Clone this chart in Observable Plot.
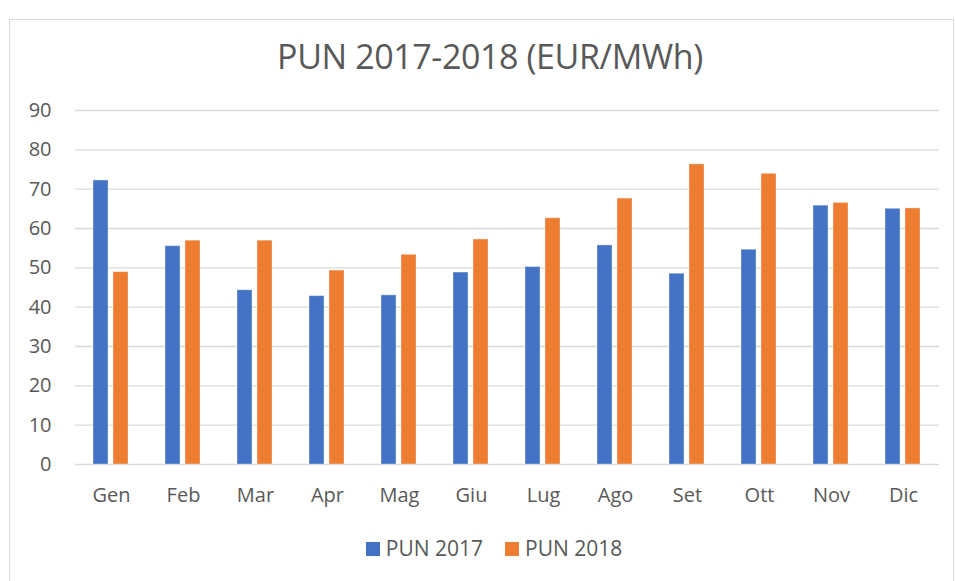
<!DOCTYPE html>
<html>
<head>
<meta charset="utf-8">
<script src="https://cdn.jsdelivr.net/npm/d3@7"></script>
<script src="https://cdn.jsdelivr.net/npm/@observablehq/plot@0.6"></script>
<style>
  html, body { margin: 0; padding: 0; background: #fff; width: 955px; height: 581px; overflow: hidden; }
  #frame { position: absolute; left: 9px; top: 19px; width: 945px; height: 570px; border: 1px solid #d9d9d9; box-sizing: border-box; }
  #title { position: absolute; left: 0; width: 980px; top: 33px; text-align: center; font-family: "Open Sans", sans-serif; font-size: 34px; color: #595959; letter-spacing: -0.4px; }
  #chart { position: absolute; left: 0; top: 90px; }
  #legend { position: absolute; left: 0; width: 988px; top: 534px; text-align: center; font-family: "Open Sans", sans-serif; font-size: 21px; color: #595959; }
  .sw { display: inline-block; width: 14px; height: 14px; margin-right: 6px; vertical-align: 0px; }
  .item { display: inline-block; margin: 0 11px; }
</style>
</head>
<body>
<div id="frame"></div>
<div id="title">PUN 2017-2018 (EUR/MWh)</div>
<div id="chart"></div>
<div id="legend"></div>
<script>
const months = ["Gen","Feb","Mar","Apr","Mag","Giu","Lug","Ago","Set","Ott","Nov","Dic"];
const pun2017 = [72.2, 55.5, 44.3, 42.8, 43.0, 48.8, 50.2, 55.7, 48.5, 54.6, 65.8, 65.0];
const pun2018 = [48.9, 56.9, 56.9, 49.3, 53.3, 57.2, 62.6, 67.6, 76.3, 73.9, 66.5, 65.1];
const seriesNames = ["PUN 2017", "PUN 2018"];
const seriesColors = ["#4472C4", "#ED7D31"];
const yTicks = [0, 10, 20, 30, 40, 50, 60, 70, 80, 90];

const data = [];
months.forEach((m, i) => {
  data.push({month: m, series: seriesNames[0], value: pun2017[i]});
  data.push({month: m, series: seriesNames[1], value: pun2018[i]});
});

const chart = Plot.plot({
  width: 955,
  height: 424,
  marginLeft: 73,
  marginRight: 15,
  marginTop: 20,
  marginBottom: 50,
  style: {fontFamily: "Open Sans, sans-serif", fontSize: "20px", color: "#595959", background: "transparent"},
  fx: {domain: months, padding: 0, axis: "bottom", tickSize: 0, tickPadding: 23, label: null},
  x: {domain: seriesNames, axis: null, paddingInner: 0.24, paddingOuter: 0.84},
  y: {domain: [0, 90], ticks: yTicks, tickSize: 0, tickPadding: 24, label: null},
  color: {domain: seriesNames, range: seriesColors},
  marks: [
    Plot.ruleY(yTicks, {stroke: "#d9d9d9", strokeWidth: 1.3}),
    Plot.barY(data, {fx: "month", x: "series", y: "value", fill: "series", stroke: "white", strokeOpacity: 0.35, strokeWidth: 1})
  ]
});
document.getElementById("chart").appendChild(chart);

const legend = document.getElementById("legend");
seriesNames.forEach((s, i) => {
  const item = document.createElement("span");
  item.className = "item";
  const sw = document.createElement("span");
  sw.className = "sw";
  sw.style.background = seriesColors[i];
  item.appendChild(sw);
  item.appendChild(document.createTextNode(s));
  legend.appendChild(item);
});
</script>
</body>
</html>
